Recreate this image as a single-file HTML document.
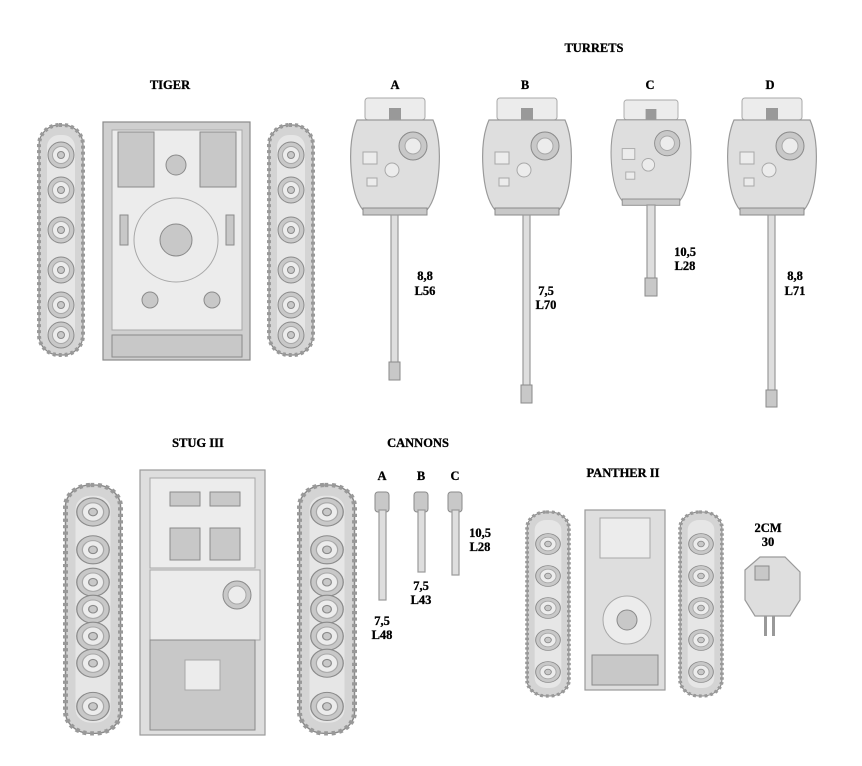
<!DOCTYPE html>
<html><head><style>
html,body{margin:0;padding:0;background:#fff;}
svg{display:block}
text{font-family:"Liberation Serif",serif;font-weight:bold;font-size:12.5px;fill:#000;text-anchor:middle;stroke:#000;stroke-width:0.3}
.p{fill:#dedede;stroke:#9a9a9a;stroke-width:1.2}
.d{fill:#c8c8c8;stroke:#8a8a8a;stroke-width:1}
.l{fill:#ececec;stroke:#a8a8a8;stroke-width:1}
.t{fill:#d4d4d4;stroke:#888;stroke-width:1.2}
</style></head><body>
<svg width="862" height="766" viewBox="0 0 862 766" xmlns="http://www.w3.org/2000/svg">
<defs>
<g id="wheel"><circle r="13" class="d"/><circle r="8.5" class="l"/><circle r="3.5" class="d"/></g>
<g id="turret">
<rect x="-30" y="0" width="60" height="22" rx="3" class="l"/>
<rect x="-6" y="10" width="12" height="12" fill="#999"/>
<path d="M-38,22 Q-46,40 -44,70 Q-42,100 -32,112 L32,112 Q42,100 44,70 Q46,40 38,22 Z" class="p"/>
<rect x="-32" y="110" width="64" height="7" class="d"/>
<circle cx="18" cy="48" r="14" class="d"/><circle cx="18" cy="48" r="8" class="l"/>
<circle cx="-3" cy="72" r="7" class="l"/>
<rect x="-32" y="54" width="14" height="12" class="l"/>
<rect x="-28" y="80" width="10" height="8" class="l"/>
</g>
<g id="track">
<rect x="-22" y="0" width="44" height="230" rx="20" class="t"/>
<rect x="-22" y="0" width="44" height="230" rx="20" fill="none" stroke="#999" stroke-width="4" stroke-dasharray="3 3"/>
<rect x="-14" y="10" width="28" height="210" rx="12" fill="#e6e6e6"/>
</g>
</defs>

<text x="594" y="52">TURRETS</text>
<text x="170" y="89">TIGER</text>
<text x="395" y="89">A</text><text x="525" y="89">B</text><text x="650" y="89">C</text><text x="770" y="89">D</text>

<!-- Tiger -->
<g transform="translate(61,125)"><use href="#track"/>
<use href="#wheel" x="0" y="30"/><use href="#wheel" x="0" y="65"/><use href="#wheel" x="0" y="105"/><use href="#wheel" x="0" y="145"/><use href="#wheel" x="0" y="180"/><use href="#wheel" x="0" y="210"/></g>
<g transform="translate(291,125)"><use href="#track"/>
<use href="#wheel" x="0" y="30"/><use href="#wheel" x="0" y="65"/><use href="#wheel" x="0" y="105"/><use href="#wheel" x="0" y="145"/><use href="#wheel" x="0" y="180"/><use href="#wheel" x="0" y="210"/></g>
<rect x="103" y="122" width="147" height="238" fill="#cfcfcf" stroke="#8a8a8a" stroke-width="1.2"/>
<rect x="112" y="130" width="130" height="200" class="l"/>
<rect x="118" y="132" width="36" height="55" class="d"/><rect x="200" y="132" width="36" height="55" class="d"/>
<circle cx="176" cy="165" r="10" class="d"/>
<circle cx="176" cy="240" r="42" class="l"/><circle cx="176" cy="240" r="16" class="d"/>
<rect x="120" y="215" width="8" height="30" class="d"/><rect x="226" y="215" width="8" height="30" class="d"/>
<circle cx="150" cy="300" r="8" class="d"/><circle cx="212" cy="300" r="8" class="d"/>
<rect x="112" y="335" width="130" height="22" class="d"/>

<!-- Turrets -->
<g transform="translate(395,98)"><use href="#turret"/></g>
<rect x="391" y="215" width="7" height="160" class="p"/><rect x="389" y="362" width="11" height="18" class="d"/>
<text x="425" y="280">8,8</text><text x="425" y="295">L56</text>
<g transform="translate(527,98)"><use href="#turret"/></g>
<rect x="523" y="215" width="7" height="180" class="p"/><rect x="521" y="385" width="11" height="18" class="d"/>
<text x="546" y="295">7,5</text><text x="546" y="309">L70</text>
<g transform="translate(651,100) scale(0.9)"><use href="#turret"/></g>
<rect x="647" y="205" width="8" height="80" class="p"/><rect x="645" y="278" width="12" height="18" class="d"/>
<text x="685" y="256">10,5</text><text x="685" y="270">L28</text>
<g transform="translate(772,98)"><use href="#turret"/></g>
<rect x="768" y="215" width="7" height="180" class="p"/><rect x="766" y="390" width="11" height="17" class="d"/>
<text x="795" y="280">8,8</text><text x="795" y="295">L71</text>

<!-- Stug -->
<text x="198" y="447">STUG III</text>
<g transform="translate(93,485) scale(1.25,1.08)"><use href="#track"/>
<use href="#wheel" x="0" y="25"/><use href="#wheel" x="0" y="60"/><use href="#wheel" x="0" y="90"/><use href="#wheel" x="0" y="115"/><use href="#wheel" x="0" y="140"/><use href="#wheel" x="0" y="165"/><use href="#wheel" x="0" y="205"/></g>
<g transform="translate(327,485) scale(1.25,1.08)"><use href="#track"/>
<use href="#wheel" x="0" y="25"/><use href="#wheel" x="0" y="60"/><use href="#wheel" x="0" y="90"/><use href="#wheel" x="0" y="115"/><use href="#wheel" x="0" y="140"/><use href="#wheel" x="0" y="165"/><use href="#wheel" x="0" y="205"/></g>
<rect x="140" y="470" width="125" height="265" class="p"/>
<rect x="150" y="478" width="105" height="90" class="l"/>
<rect x="170" y="492" width="30" height="14" class="d"/><rect x="210" y="492" width="30" height="14" class="d"/>
<rect x="170" y="528" width="30" height="32" class="d"/><rect x="210" y="528" width="30" height="32" class="d"/>
<rect x="150" y="570" width="110" height="70" class="l"/>
<circle cx="237" cy="595" r="14" class="d"/><circle cx="237" cy="595" r="9" class="l"/>
<rect x="150" y="640" width="105" height="90" class="d"/>
<rect x="185" y="660" width="35" height="30" class="l"/>

<!-- Cannons -->
<text x="418" y="447">CANNONS</text>
<text x="382" y="480">A</text><text x="421" y="480">B</text><text x="455" y="480">C</text>
<rect x="375" y="492" width="14" height="20" rx="3" class="d"/><rect x="379" y="510" width="7" height="90" class="p"/>
<rect x="414" y="492" width="14" height="20" rx="3" class="d"/><rect x="418" y="510" width="7" height="62" class="p"/>
<rect x="448" y="492" width="14" height="20" rx="3" class="d"/><rect x="452" y="510" width="7" height="65" class="p"/>
<text x="382" y="625">7,5</text><text x="382" y="639">L48</text>
<text x="421" y="590">7,5</text><text x="421" y="604">L43</text>
<text x="480" y="537">10,5</text><text x="480" y="551">L28</text>

<!-- Panther -->
<text x="623" y="477">PANTHER II</text>
<g transform="translate(548,512) scale(0.95,0.8)"><use href="#track"/>
<use href="#wheel" x="0" y="40"/><use href="#wheel" x="0" y="80"/><use href="#wheel" x="0" y="120"/><use href="#wheel" x="0" y="160"/><use href="#wheel" x="0" y="200"/></g>
<g transform="translate(701,512) scale(0.95,0.8)"><use href="#track"/>
<use href="#wheel" x="0" y="40"/><use href="#wheel" x="0" y="80"/><use href="#wheel" x="0" y="120"/><use href="#wheel" x="0" y="160"/><use href="#wheel" x="0" y="200"/></g>
<rect x="585" y="510" width="80" height="180" class="p"/>
<rect x="600" y="518" width="50" height="40" class="l"/>
<circle cx="627" cy="620" r="24" class="l"/><circle cx="627" cy="620" r="10" class="d"/>
<rect x="592" y="655" width="66" height="30" class="d"/>
<text x="768" y="532">2CM</text><text x="768" y="546">30</text>
<path d="M745,570 L760,557 L785,557 L800,572 L800,600 L790,616 L755,616 L745,600 Z" class="p"/>
<rect x="755" y="566" width="14" height="14" class="d"/>
<rect x="764" y="616" width="3" height="20" fill="#999"/><rect x="772" y="616" width="3" height="20" fill="#999"/>
</svg>
</body></html>
